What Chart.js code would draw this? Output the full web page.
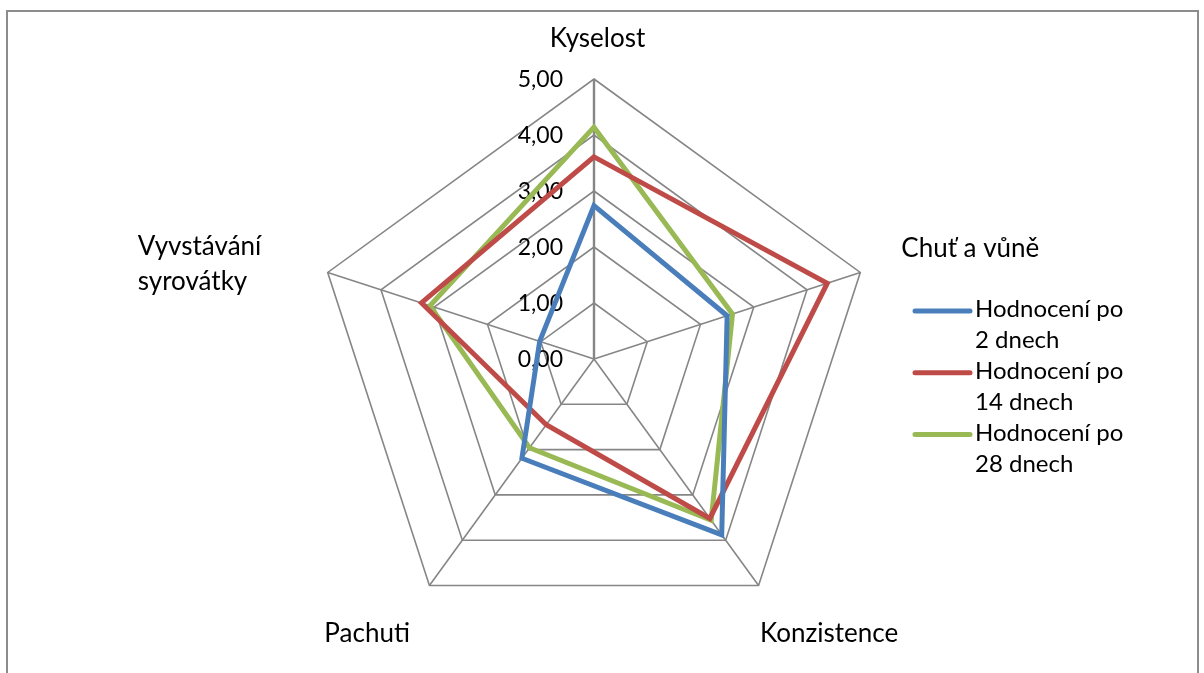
<!DOCTYPE html>
<html>
<head>
<meta charset="utf-8">
<script src="https://cdn.jsdelivr.net/npm/chart.js@4.4.1/dist/chart.umd.min.js"></script>
<style>
  html, body { margin: 0; padding: 0; background: #ffffff; }
  #wrap { width: 1204px; height: 673px; position: relative; }
</style>
</head>
<body>
<div id="wrap"><canvas id="c" width="1204" height="673"></canvas></div>
<script>
// Sensory evaluation categories (multi-line labels as arrays)
const categories = ['Kyselost', 'Chuť a vůně', 'Konzistence', 'Pachuti', ['Vyvstávání', 'syrovátky']];

// Series names (legend, wrapped in two lines)
const seriesNames = [
  ['Hodnocení po', '2 dnech'],
  ['Hodnocení po', '14 dnech'],
  ['Hodnocení po', '28 dnech']
];

// Mean scores per category
const after2days  = [2.74, 2.50, 3.88, 2.19, 1.02];
const after14days = [3.61, 4.38, 3.52, 1.45, 3.24];
const after28days = [4.14, 2.60, 3.56, 1.96, 3.08];

// Radial axis tick labels (0..5, step 1)
const tickValues = [0, 1, 2, 3, 4, 5];
const tickLabels = ['0,00', '1,00', '2,00', '3,00', '4,00', '5,00'];

const seriesColors = ['#4A7EBB', '#BE4B48', '#98B954'];
const gridColor = '#868686';
const LABEL_FONT = '26px Lato';
const TICK_FONT = '23px Lato';
const LEGEND_FONT = '24px Lato';

// Outer frame of the chart area
const framePlugin = {
  id: 'frame',
  beforeDraw(chart) {
    const ctx = chart.ctx;
    ctx.save();
    ctx.strokeStyle = '#8c8c8c';
    ctx.lineWidth = 2;
    ctx.strokeRect(7, 11, chart.width - 13, chart.height + 20);
    ctx.restore();
  }
};

// Tick labels to the left of the vertical axis, drawn under the series lines
const tickTextPlugin = {
  id: 'tickText',
  beforeDatasetsDraw(chart) {
    const scale = chart.scales.r;
    const ctx = chart.ctx;
    ctx.save();
    ctx.font = TICK_FONT;
    ctx.fillStyle = '#000';
    ctx.textAlign = 'right';
    ctx.textBaseline = 'middle';
    tickValues.forEach((v, i) => {
      const y = scale.yCenter - scale.getDistanceFromCenterForValue(v);
      ctx.fillText(tickLabels[i], scale.xCenter - 31, y + 1);
    });
    ctx.restore();
  }
};

// Category labels placed around the outer polygon vertices
const categoryTextPlugin = {
  id: 'categoryText',
  afterDraw(chart) {
    const scale = chart.scales.r;
    const ctx = chart.ctx;
    // [dx, dy, align] relative to the outer vertex of each axis
    const place = [
      [3.5, -32, 'center'],
      [41, -15.5, 'left'],
      [1.5, 56.5, 'left'],
      [-19.5, 56.5, 'right'],
      [-190, -17.5, 'left']
    ];
    ctx.save();
    ctx.font = LABEL_FONT;
    ctx.fillStyle = '#000';
    ctx.textBaseline = 'alphabetic';
    categories.forEach((lab, i) => {
      const p = scale.getPointPosition(i, scale.drawingArea);
      const [dx, dy, align] = place[i];
      ctx.textAlign = align;
      const lines = Array.isArray(lab) ? lab : [lab];
      lines.forEach((line, k) => {
        ctx.fillText(line, p.x + dx, p.y + dy + k * 35);
      });
    });
    ctx.restore();
  }
};

// Legend on the right with wrapped series names
const legendPlugin = {
  id: 'sideLegend',
  afterDraw(chart) {
    const ctx = chart.ctx;
    ctx.save();
    ctx.font = LEGEND_FONT;
    ctx.textAlign = 'left';
    ctx.textBaseline = 'alphabetic';
    const x0 = 915, x1 = 970, tx = 975, y0 = 311, step = 61.8;
    chart.data.datasets.forEach((ds, i) => {
      const y = y0 + i * step;
      ctx.strokeStyle = ds.borderColor;
      ctx.lineWidth = 5;
      ctx.lineCap = 'round';
      ctx.beginPath();
      ctx.moveTo(x0, y);
      ctx.lineTo(x1, y);
      ctx.stroke();
      ctx.fillStyle = '#000';
      seriesNames[i].forEach((line, k) => {
        ctx.fillText(line, tx, y + 6 + k * 31.3);
      });
    });
    ctx.restore();
  }
};

const seriesData = [after2days, after14days, after28days];

new Chart(document.getElementById('c'), {
  type: 'radar',
  data: {
    labels: categories,
    datasets: seriesData.map((vals, i) => ({
      label: seriesNames[i].join(' '),
      data: vals,
      borderColor: seriesColors[i],
      backgroundColor: seriesColors[i],
      borderWidth: 5,
      borderJoinStyle: 'miter',
      pointRadius: 0,
      pointHoverRadius: 0,
      fill: false,
      tension: 0
    }))
  },
  options: {
    responsive: false,
    devicePixelRatio: 1,
    animation: false,
    layout: { padding: { left: 314, top: 79, right: 330, bottom: 34 } },
    plugins: {
      legend: { display: false },
      tooltip: { enabled: false }
    },
    scales: {
      r: {
        min: 0,
        max: 5,
        ticks: { display: false, stepSize: 1 },
        pointLabels: { display: false },
        grid: { color: gridColor, lineWidth: 1.6 },
        angleLines: {
          color: gridColor,
          lineWidth: (c) => (c.index === 0 ? 2.4 : 1.6)
        }
      }
    }
  },
  plugins: [framePlugin, tickTextPlugin, categoryTextPlugin, legendPlugin]
});
</script>
</body>
</html>
